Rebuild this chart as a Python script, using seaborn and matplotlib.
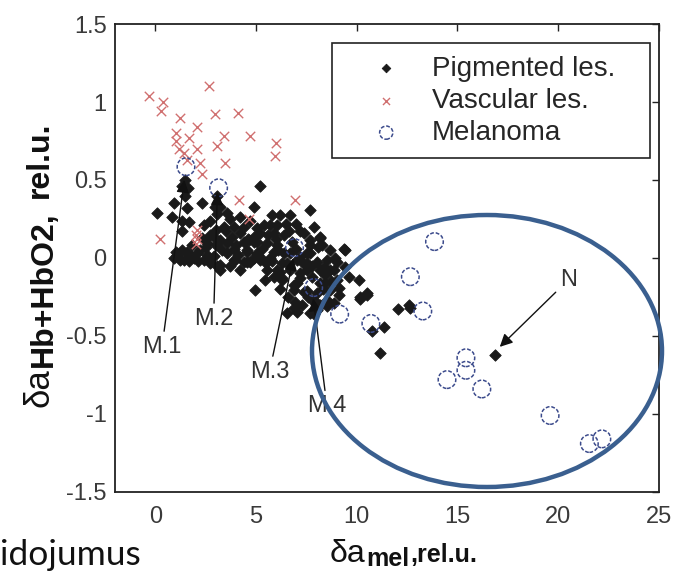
import numpy as np
import pandas as pd
import matplotlib
matplotlib.use("Agg")
import matplotlib.pyplot as plt
import seaborn as sns
from matplotlib.patches import Ellipse

# ---------------- data ----------------
pig_x = [0.08, 0.91, 0.83, 1.32, 1.57, 2.32, 2.73, 2.40, 1.32, 1.65, 5.21, 7.66, 4.88,
         1.45, 1.30, 1.62, 1.45, 3.08, 2.95, 3.22, 3.08,
         0.91, 1.08, 1.20, 1.40, 1.57, 1.75, 1.90, 2.05, 2.23, 2.40, 2.56, 2.73, 2.89, 1.00,
         1.30, 1.65, 2.10, 2.50, 3.05, 3.23, 3.23,
         2.56, 2.89, 3.23, 3.56, 3.56, 3.81, 4.22, 3.89, 4.38, 4.55, 3.97, 4.38, 4.71, 5.05,
         4.88, 5.05, 4.71, 4.22, 3.56, 3.89, 4.55, 5.21, 3.00, 3.40, 3.70, 4.00, 4.10, 3.30,
         2.70, 3.00,
         5.79, 6.20, 6.70, 5.38, 5.71, 6.04, 6.62, 7.20, 5.21, 4.88, 4.63, 5.05, 5.55, 6.04,
         7.69, 8.19, 8.27, 9.35, 4.55, 5.05, 5.87, 6.37, 6.70, 7.20, 7.69, 5.21, 6.54, 7.03,
         7.53, 8.02, 8.52, 9.02, 5.55, 6.04, 6.70, 7.20, 7.53, 8.19, 8.68, 5.46, 6.29, 7.03,
         8.44, 9.02, 10.09, 4.96, 6.86, 7.36, 8.02, 8.68, 9.10, 10.51, 6.95, 7.86, 8.19, 6.54,
         7.03, 7.69, 8.02, 10.17, 7.36, 7.69, 8.19, 7.53, 8.35, 8.85, 8.19, 7.86, 8.52, 8.02,
         9.43, 6.20, 6.29, 7.20, 7.53, 6.86, 8.52, 8.85, 8.10, 8.68, 6.00, 6.40, 6.80, 5.60,
         7.00, 6.30, 5.80, 7.80, 8.40, 9.10, 7.40,
         3.70, 4.20, 4.60, 4.90, 5.30, 5.50, 5.90, 6.20, 6.60, 6.90, 7.30, 7.60, 7.90, 8.30,
         8.70, 9.40, 9.60, 7.90, 7.00, 6.50, 5.90, 3.50, 2.30, 1.80, 3.90, 4.40, 5.70, 6.10,
         7.80, 8.90,
         10.17, 10.51, 12.04, 12.57, 12.66, 11.33, 11.13, 10.75, 16.84]
pig_y = [0.29, 0.35, 0.265, 0.24, 0.32, 0.35, 0.24, 0.21, 0.17, 0.23, 0.46, 0.31, 0.33,
         0.50, 0.46, 0.45, 0.40, 0.40, 0.33, 0.33, 0.28,
         0.00, 0.02, -0.01, -0.01, 0.04, 0.01, 0.00, 0.03, 0.05, -0.01, 0.02, -0.03, 0.01, 0.04,
         0.05, -0.02, -0.02, 0.07, -0.05, -0.045, -0.077,
         0.094, 0.137, 0.115, 0.03, 0.094, 0.137, 0.158, 0.20, 0.105, 0.05, -0.013, -0.024, -0.024, 0.02,
         0.105, 0.19, 0.24, 0.265, 0.29, -0.013, -0.024, 0.008, 0.18, 0.20, 0.25, 0.08, 0.02, 0.05,
         0.15, 0.08,
         0.276, 0.276, 0.276, 0.21, 0.21, 0.21, 0.17, 0.17, 0.16, 0.137, 0.115, 0.105, 0.094, 0.083,
         0.083, 0.126, 0.083, 0.056, 0.04, 0.03, 0.04, 0.03, 0.03, 0.008, 0.03, -0.013, -0.034, -0.013,
         -0.034, -0.024, -0.013, -0.024, -0.077, -0.077, -0.077, -0.098, -0.077, -0.077, -0.077, -0.14, -0.13, -0.16,
         -0.16, -0.14, -0.14, -0.205, -0.205, -0.216, -0.226, -0.205, -0.237, -0.226, -0.28, -0.28, -0.30, -0.355,
         -0.344, -0.355, -0.333, -0.26, 0.158, 0.115, 0.137, 0.03, -0.056, -0.077, -0.16, -0.27, -0.31, -0.33,
         0.05, -0.088, -0.14, -0.13, -0.21, -0.175, -0.27, -0.29, 0.072, 0.05, 0.12, 0.15, 0.10, 0.15,
         0.06, -0.03, -0.02, -0.12, -0.11, -0.195, -0.04,
         -0.05, -0.08, 0.12, 0.00, 0.06, -0.03, -0.12, -0.20, -0.25, -0.32, -0.30, -0.25, -0.36, -0.20,
         -0.15, -0.06, -0.12, 0.20, 0.22, 0.22, 0.16, 0.17, 0.13, 0.08, 0.06, 0.20, 0.00, 0.05,
         -0.05, 0.00,
         -0.25, -0.24, -0.33, -0.30, -0.32, -0.445, -0.61, -0.47, -0.62]

vas_x = [-0.33, 0.38, 0.30, 1.21, 2.65, 2.98, 4.09, 2.07, 1.00, 1.03, 1.16, 1.40, 1.65, 2.07,
         3.39, 3.06, 4.68, 6.00, 5.92, 3.47, 2.23, 2.32, 0.21, 2.07, 2.00, 2.07, 2.00, 4.14,
         4.63, 6.91, 1.55]
vas_y = [1.04, 1.00, 0.94, 0.90, 1.10, 0.92, 0.93, 0.84, 0.80, 0.75, 0.70, 0.67, 0.77, 0.70,
         0.78, 0.72, 0.78, 0.735, 0.656, 0.61, 0.61, 0.54, 0.12, 0.18, 0.15, 0.12, 0.09, 0.37,
         0.25, 0.37, 0.63]

mel_x = [1.52, 3.14, 6.91, 7.86, 9.15, 10.70, 13.86, 12.66, 13.28, 15.42, 15.42, 14.48,
         16.21, 19.60, 21.55, 22.17]
mel_y = [0.585, 0.45, 0.066, -0.19, -0.36, -0.42, 0.105, -0.12, -0.34, -0.64, -0.72, -0.78,
         -0.84, -1.01, -1.19, -1.16]

series_labels = ["Pigmented les.", "Vascular les.", "Melanoma"]

ann_labels = ["M.1", "M.2", "M.3", "M.4", "N"]
ann_text_x = [0.33, 2.89, 5.67, 8.52, 20.51]
ann_text_y = [-0.57, -0.39, -0.73, -0.95, -0.14]
ann_tip_x = [1.44, 3.08, 6.85, 7.84, 17.1]
ann_tip_y = [0.50, 0.42, 0.00, -0.26, -0.57]

x_ticks = [0, 5, 10, 15, 20, 25]
y_ticks = [-1.5, -1, -0.5, 0, 0.5, 1, 1.5]
y_tick_labels = ["-1.5", "-1", "-0.5", "0", "0.5", "1", "1.5"]

xlabel_parts = ["\u03b4a", "mel", ",rel.u."]
ylabel_parts = ["\u03b4a", "Hb+HbO2,", "rel.u."]

# ---------------- style ----------------
sns.set_theme(style="white")
plt.rcParams["font.family"] = ["Liberation Sans", "DejaVu Sans"]

W, H = 673, 572
fig = plt.figure(figsize=(W / 100, H / 100), dpi=100)
ax = fig.add_axes([0.171, 0.140, 0.808, 0.818])

df_p = pd.DataFrame({"x": pig_x, "y": pig_y})
df_v = pd.DataFrame({"x": vas_x, "y": vas_y})
df_m = pd.DataFrame({"x": mel_x, "y": mel_y})

sns.scatterplot(data=df_p, x="x", y="y", ax=ax, marker="D", s=34, color="#1a1a1a",
                edgecolor="#1a1a1a", linewidth=0.6, label=series_labels[0], zorder=3)
sns.scatterplot(data=df_v, x="x", y="y", ax=ax, marker="x", s=46, color="#d07070",
                linewidth=1.0, label=series_labels[1], zorder=4)
sns.scatterplot(data=df_m, x="x", y="y", ax=ax, marker="o", s=160, facecolor="none",
                edgecolor="#3c4b8c", linewidth=1.1, linestyle=(0, (2.5, 1.2)),
                label=series_labels[2], zorder=5)

for lab, tx, ty, px, py in zip(ann_labels, ann_text_x, ann_text_y, ann_tip_x, ann_tip_y):
    ax.annotate(lab, xy=(px, py), xytext=(tx, ty), ha="center", va="center",
                fontsize=17, color="#333333",
                arrowprops=dict(arrowstyle="-|>", color="#111111", lw=1.0,
                                mutation_scale=19, shrinkA=1, shrinkB=0), zorder=6)

ax.set_xlim(-2, 25)
ax.set_ylim(-1.5, 1.5)
ax.set_xticks(x_ticks)
ax.set_xticklabels([str(t) for t in x_ticks])
ax.set_yticks(y_ticks)
ax.set_yticklabels(y_tick_labels)
ax.tick_params(direction="in", length=5, width=1, top=True, right=True,
               labelsize=17, labelcolor="#3a3a3a", color="#222222", pad=6)
ax.tick_params(axis="x", pad=10)
for sp in ax.spines.values():
    sp.set_color("#222222")
    sp.set_linewidth(1.3)
ax.set_xlabel("")
ax.set_ylabel("")

leg = ax.legend(loc="upper left", bbox_to_anchor=(0.399, 0.0, 0.585, 0.959),
                mode="expand", borderaxespad=0,
                fontsize=20, frameon=True, fancybox=False, edgecolor="#222222",
                framealpha=1, handlelength=3.0, handletextpad=0.15, labelspacing=0.22,
                borderpad=0.45, markerscale=0.75)
leg.get_frame().set_linewidth(1.2)

fig.add_artist(Ellipse((487 / 673, 1 - 351 / 572), 350 / 673, 272 / 572,
                       transform=fig.transFigure, fill=False, ec="#3a5f8f", lw=3.2,
                       zorder=10))

fig.text(0.0, 0.012, "idojumus", fontsize=25.5, family=["Lato", "DejaVu Sans"],
         color="#111111", ha="left", va="baseline")

# ---- composite axis labels (large delta-a, bold lowered subscript) ----
renderer = fig.canvas.get_renderer()

# x label: pieces laid out left to right (pixel coords, y from top)
x_cur, base = 330.0, 562.0
specs = [(xlabel_parts[0], 23, "normal", 0.0, 1.0),
         (xlabel_parts[1], 18, "bold", 4.0, 0.0),
         (xlabel_parts[2], 18, "bold", 0.0, 0.0)]
for txt, fs, fw, dy, gap in specs:
    t = fig.text(x_cur / W, 1 - (base + dy) / H, txt, fontsize=fs, fontweight=fw,
                 color="#111111", ha="left", va="baseline")
    ext = t.get_window_extent(renderer)
    x_cur = ext.x1 + gap

# y label: pieces stacked bottom to top, rotated
y_cur, bx = H - 407.0, 48.0
specs = [(ylabel_parts[0], 25, "normal", 0.0, 1.0),
         (ylabel_parts[1], 23, "bold", 4.0, 14.0),
         (ylabel_parts[2], 23, "bold", 0.0, 0.0)]
for txt, fs, fw, dx, gap in specs:
    t = fig.text((bx + dx) / W, y_cur / H, txt, fontsize=fs, fontweight=fw,
                 color="#111111", rotation=90, rotation_mode="anchor",
                 ha="left", va="baseline")
    ext = t.get_window_extent(renderer)
    y_cur = ext.y1 + gap

fig.savefig("out.png", dpi=100)
